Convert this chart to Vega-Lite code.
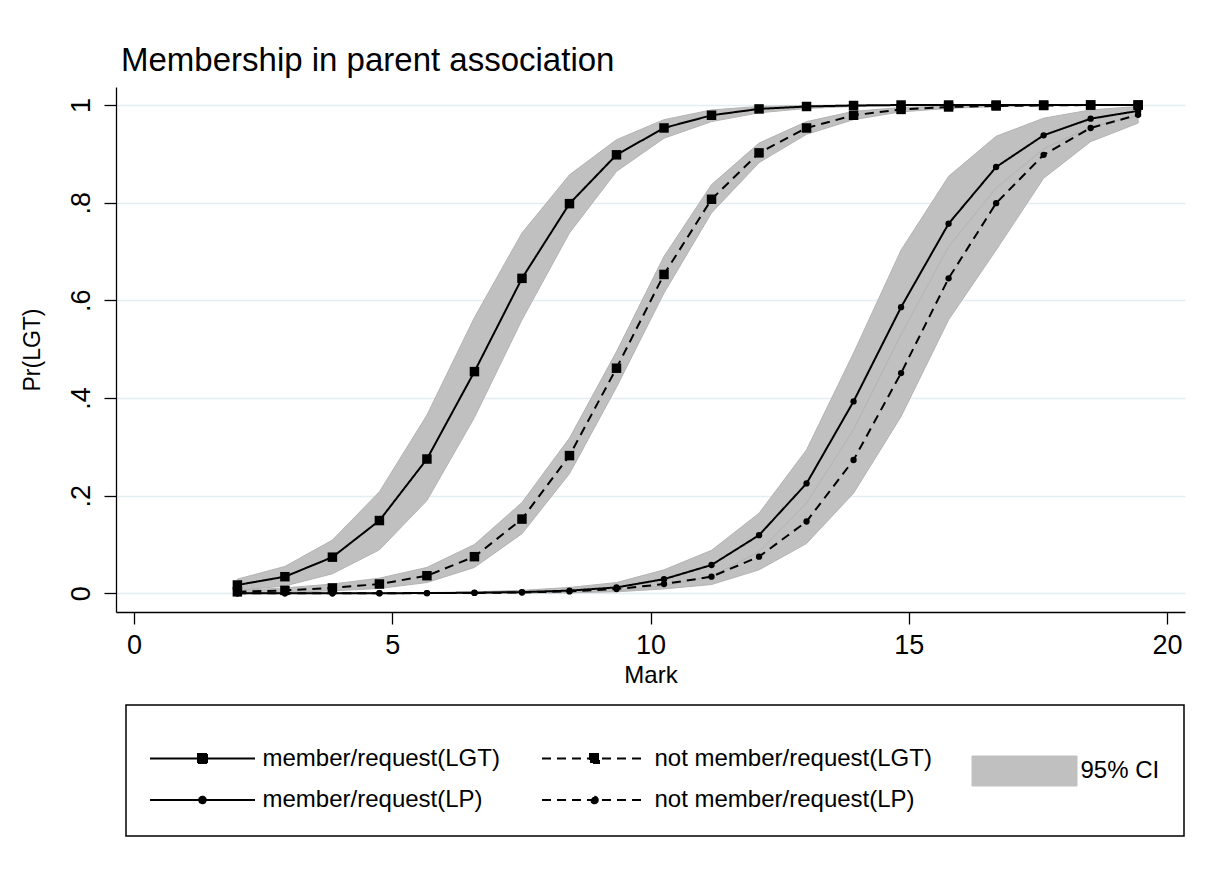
{
  "$schema": "https://vega.github.io/schema/vega-lite/v6.json",
  "width": 1069,
  "height": 525,
  "autosize": {"type": "none"},
  "padding": {"left": 116, "top": 87, "right": 29, "bottom": 265},
  "background": "white",
  "title": {
    "text": "Membership in parent association",
    "anchor": "start",
    "frame": "group",
    "font": "Liberation Sans",
    "fontSize": 33,
    "fontWeight": "normal",
    "color": "black",
    "baseline": "alphabetic",
    "offset": 15,
    "dx": 5,
    "dy": 32
  },
  "config": {"view": {"stroke": null}, "font": "Liberation Sans"},
  "data": {
    "values": [
      {"series": "member/request(LGT)", "x": 2.00, "p": 0.017, "lo": 0.006, "hi": 0.029},
      {"series": "member/request(LGT)", "x": 2.92, "p": 0.034, "lo": 0.015, "hi": 0.055},
      {"series": "member/request(LGT)", "x": 3.84, "p": 0.074, "lo": 0.040, "hi": 0.109},
      {"series": "member/request(LGT)", "x": 4.75, "p": 0.149, "lo": 0.089, "hi": 0.208},
      {"series": "member/request(LGT)", "x": 5.67, "p": 0.275, "lo": 0.190, "hi": 0.365},
      {"series": "member/request(LGT)", "x": 6.59, "p": 0.454, "lo": 0.360, "hi": 0.565},
      {"series": "member/request(LGT)", "x": 7.51, "p": 0.645, "lo": 0.560, "hi": 0.738},
      {"series": "member/request(LGT)", "x": 8.43, "p": 0.798, "lo": 0.738, "hi": 0.857},
      {"series": "member/request(LGT)", "x": 9.34, "p": 0.898, "lo": 0.864, "hi": 0.929},
      {"series": "member/request(LGT)", "x": 10.26, "p": 0.953, "lo": 0.932, "hi": 0.970},
      {"series": "member/request(LGT)", "x": 11.18, "p": 0.979, "lo": 0.966, "hi": 0.990},
      {"series": "member/request(LGT)", "x": 12.10, "p": 0.992, "lo": 0.984, "hi": 0.997},
      {"series": "member/request(LGT)", "x": 13.02, "p": 0.997, "lo": 0.993, "hi": 0.999},
      {"series": "member/request(LGT)", "x": 13.93, "p": 0.999, "lo": 0.997, "hi": 1.0},
      {"series": "member/request(LGT)", "x": 14.85, "p": 1.0, "lo": 0.999, "hi": 1.0},
      {"series": "member/request(LGT)", "x": 15.77, "p": 1.0, "lo": 1.0, "hi": 1.0},
      {"series": "member/request(LGT)", "x": 16.69, "p": 1.0, "lo": 1.0, "hi": 1.0},
      {"series": "member/request(LGT)", "x": 17.61, "p": 1.0, "lo": 1.0, "hi": 1.0},
      {"series": "member/request(LGT)", "x": 18.52, "p": 1.0, "lo": 1.0, "hi": 1.0},
      {"series": "member/request(LGT)", "x": 19.44, "p": 1.0, "lo": 1.0, "hi": 1.0},

      {"series": "not member/request(LGT)", "x": 2.00, "p": 0.003, "lo": 0.001, "hi": 0.006},
      {"series": "not member/request(LGT)", "x": 2.92, "p": 0.006, "lo": 0.002, "hi": 0.011},
      {"series": "not member/request(LGT)", "x": 3.84, "p": 0.011, "lo": 0.005, "hi": 0.019},
      {"series": "not member/request(LGT)", "x": 4.75, "p": 0.019, "lo": 0.010, "hi": 0.031},
      {"series": "not member/request(LGT)", "x": 5.67, "p": 0.036, "lo": 0.022, "hi": 0.053},
      {"series": "not member/request(LGT)", "x": 6.59, "p": 0.075, "lo": 0.053, "hi": 0.100},
      {"series": "not member/request(LGT)", "x": 7.51, "p": 0.152, "lo": 0.122, "hi": 0.186},
      {"series": "not member/request(LGT)", "x": 8.43, "p": 0.282, "lo": 0.245, "hi": 0.318},
      {"series": "not member/request(LGT)", "x": 9.34, "p": 0.461, "lo": 0.422, "hi": 0.495},
      {"series": "not member/request(LGT)", "x": 10.26, "p": 0.653, "lo": 0.615, "hi": 0.690},
      {"series": "not member/request(LGT)", "x": 11.18, "p": 0.807, "lo": 0.779, "hi": 0.837},
      {"series": "not member/request(LGT)", "x": 12.10, "p": 0.902, "lo": 0.882, "hi": 0.922},
      {"series": "not member/request(LGT)", "x": 13.02, "p": 0.953, "lo": 0.940, "hi": 0.966},
      {"series": "not member/request(LGT)", "x": 13.93, "p": 0.979, "lo": 0.970, "hi": 0.987},
      {"series": "not member/request(LGT)", "x": 14.85, "p": 0.991, "lo": 0.986, "hi": 0.995},
      {"series": "not member/request(LGT)", "x": 15.77, "p": 0.996, "lo": 0.993, "hi": 0.998},
      {"series": "not member/request(LGT)", "x": 16.69, "p": 0.998, "lo": 0.997, "hi": 0.999},
      {"series": "not member/request(LGT)", "x": 17.61, "p": 0.999, "lo": 0.999, "hi": 1.0},
      {"series": "not member/request(LGT)", "x": 18.52, "p": 1.0, "lo": 0.9995, "hi": 1.0},
      {"series": "not member/request(LGT)", "x": 19.44, "p": 1.0, "lo": 1.0, "hi": 1.0},

      {"series": "not member/request(LP)", "x": 2.00, "p": 0.00001, "lo": 0.0, "hi": 0.0001},
      {"series": "not member/request(LP)", "x": 2.92, "p": 0.00003, "lo": 0.0, "hi": 0.0002},
      {"series": "not member/request(LP)", "x": 3.84, "p": 0.00007, "lo": 0.0, "hi": 0.0003},
      {"series": "not member/request(LP)", "x": 4.75, "p": 0.00015, "lo": 0.0, "hi": 0.0006},
      {"series": "not member/request(LP)", "x": 5.67, "p": 0.0003, "lo": 0.0001, "hi": 0.001},
      {"series": "not member/request(LP)", "x": 6.59, "p": 0.0008, "lo": 0.0002, "hi": 0.002},
      {"series": "not member/request(LP)", "x": 7.51, "p": 0.0017, "lo": 0.0005, "hi": 0.005},
      {"series": "not member/request(LP)", "x": 8.43, "p": 0.0039, "lo": 0.001, "hi": 0.009},
      {"series": "not member/request(LP)", "x": 9.34, "p": 0.0086, "lo": 0.003, "hi": 0.014},
      {"series": "not member/request(LP)", "x": 10.26, "p": 0.019, "lo": 0.009, "hi": 0.030},
      {"series": "not member/request(LP)", "x": 11.18, "p": 0.034, "lo": 0.018, "hi": 0.055},
      {"series": "not member/request(LP)", "x": 12.10, "p": 0.075, "lo": 0.048, "hi": 0.100},
      {"series": "not member/request(LP)", "x": 13.02, "p": 0.147, "lo": 0.102, "hi": 0.200},
      {"series": "not member/request(LP)", "x": 13.93, "p": 0.273, "lo": 0.205, "hi": 0.350},
      {"series": "not member/request(LP)", "x": 14.85, "p": 0.451, "lo": 0.362, "hi": 0.550},
      {"series": "not member/request(LP)", "x": 15.77, "p": 0.645, "lo": 0.560, "hi": 0.730},
      {"series": "not member/request(LP)", "x": 16.69, "p": 0.799, "lo": 0.703, "hi": 0.870},
      {"series": "not member/request(LP)", "x": 17.61, "p": 0.898, "lo": 0.850, "hi": 0.940},
      {"series": "not member/request(LP)", "x": 18.52, "p": 0.953, "lo": 0.925, "hi": 0.975},
      {"series": "not member/request(LP)", "x": 19.44, "p": 0.980, "lo": 0.963, "hi": 0.990},

      {"series": "member/request(LP)", "x": 2.00, "p": 0.00002, "lo": 0.0, "hi": 0.0001},
      {"series": "member/request(LP)", "x": 2.92, "p": 0.00005, "lo": 0.0, "hi": 0.0002},
      {"series": "member/request(LP)", "x": 3.84, "p": 0.0001, "lo": 0.0, "hi": 0.0004},
      {"series": "member/request(LP)", "x": 4.75, "p": 0.0002, "lo": 0.0001, "hi": 0.0007},
      {"series": "member/request(LP)", "x": 5.67, "p": 0.0005, "lo": 0.0001, "hi": 0.0015},
      {"series": "member/request(LP)", "x": 6.59, "p": 0.0011, "lo": 0.0003, "hi": 0.003},
      {"series": "member/request(LP)", "x": 7.51, "p": 0.0025, "lo": 0.001, "hi": 0.006},
      {"series": "member/request(LP)", "x": 8.43, "p": 0.0055, "lo": 0.002, "hi": 0.012},
      {"series": "member/request(LP)", "x": 9.34, "p": 0.012, "lo": 0.005, "hi": 0.022},
      {"series": "member/request(LP)", "x": 10.26, "p": 0.029, "lo": 0.015, "hi": 0.048},
      {"series": "member/request(LP)", "x": 11.18, "p": 0.058, "lo": 0.035, "hi": 0.088},
      {"series": "member/request(LP)", "x": 12.10, "p": 0.119, "lo": 0.085, "hi": 0.164},
      {"series": "member/request(LP)", "x": 13.02, "p": 0.225, "lo": 0.185, "hi": 0.294},
      {"series": "member/request(LP)", "x": 13.93, "p": 0.393, "lo": 0.335, "hi": 0.492},
      {"series": "member/request(LP)", "x": 14.85, "p": 0.586, "lo": 0.530, "hi": 0.703},
      {"series": "member/request(LP)", "x": 15.77, "p": 0.757, "lo": 0.710, "hi": 0.854},
      {"series": "member/request(LP)", "x": 16.69, "p": 0.873, "lo": 0.830, "hi": 0.936},
      {"series": "member/request(LP)", "x": 17.61, "p": 0.938, "lo": 0.910, "hi": 0.973},
      {"series": "member/request(LP)", "x": 18.52, "p": 0.972, "lo": 0.955, "hi": 0.990},
      {"series": "member/request(LP)", "x": 19.44, "p": 0.988, "lo": 0.978, "hi": 0.997}
    ]
  },
  "encoding": {
    "x": {
      "field": "x",
      "type": "quantitative",
      "scale": {"domain": [-0.35, 20.347], "nice": false, "zero": false},
      "axis": {
        "values": [0, 5, 10, 15, 20],
        "title": "Mark",
        "titleFont": "Liberation Sans",
        "titleFontSize": 24,
        "titleFontWeight": "normal",
        "titleColor": "black",
        "titleBaseline": "alphabetic",
        "titleY": 70,
        "labelFont": "Liberation Sans",
        "labelFontSize": 27,
        "labelColor": "black",
        "labelPadding": 8,
        "labelFlush": false,
        "tickSize": 12,
        "tickColor": "black",
        "tickWidth": 1.3,
        "domainColor": "black",
        "domainWidth": 1.3,
        "grid": false
      }
    }
  },
  "layer": [
    {
      "mark": {"type": "area", "stroke": "#b3b3b3", "strokeWidth": 1, "opacity": 1, "interpolate": "linear"},
      "encoding": {
        "y": {
          "field": "lo",
          "type": "quantitative",
          "scale": {"domain": [-0.0383, 1.0369], "nice": false, "zero": false},
          "axis": {
            "values": [0, 0.2, 0.4, 0.6, 0.8, 1],
            "labelExpr": "datum.value == 0 ? '0' : (datum.value == 1 ? '1' : replace(format(datum.value, '.1f'), '0.', '.'))",
            "title": "Pr(LGT)",
            "titleFont": "Liberation Sans",
            "titleFontSize": 23,
            "titleFontWeight": "normal",
            "titleColor": "black",
            "titleAngle": 270,
            "titleBaseline": "alphabetic",
            "titleAlign": "center",
            "titleX": -77,
            "labelFont": "Liberation Sans",
            "labelFontSize": 27,
            "labelColor": "black",
            "labelAngle": 270,
            "labelAlign": "center",
            "labelBaseline": "alphabetic",
            "labelPadding": 15,
            "tickSize": 12,
            "tickColor": "black",
            "tickWidth": 1.3,
            "domainColor": "black",
            "domainWidth": 1.3,
            "grid": true,
            "gridColor": "#e4edf0",
            "gridWidth": 1.6
          }
        },
        "y2": {"field": "hi"},
        "detail": {"field": "series", "type": "nominal"},
        "color": {
          "datum": "95% CI",
          "type": "nominal",
          "scale": {
            "domain": ["member/request(LGT)", "not member/request(LGT)", "95% CI", "member/request(LP)", "not member/request(LP)"],
            "range": ["black", "black", "#c0c0c0", "black", "black"]
          },
          "legend": {
            "title": null,
            "orient": "none",
            "legendX": 10,
            "legendY": 618,
            "direction": "horizontal",
            "columns": 3,
            "padding": 24,
            "strokeColor": "black",
            "columnPadding": 38,
            "rowPadding": -1.5,
            "labelFont": "Liberation Sans",
            "labelFontSize": 24,
            "labelColor": "black",
            "labelLimit": 600,
            "symbolSize": 400,
            "symbolStrokeWidth": 2,
            "symbolOffset": 40.5,
            "labelOffset": 48,
            "encode": {
              "symbols": {"update": {
                "shape": {"signal": "datum.value === '95% CI' ? 'M-5.25,1.5H5.25V4.5H-5.25Z' : (indexof(datum.value, '(LGT)') >= 0 ? 'M-5.25,0H5.25M-0.45,-0.45H0.45V0.45H-0.45Z' : 'M-5.25,0H5.25M0.33,0A0.33,0.33 0 1,1 -0.33,0A0.33,0.33 0 1,1 0.33,0Z')"},
                "fill": {"signal": "datum.value === '95% CI' ? '#c0c0c0' : 'black'"},
                "stroke": {"signal": "datum.value === '95% CI' ? '#b3b3b3' : 'black'"},
                "strokeWidth": {"signal": "datum.value === '95% CI' ? 1 : 2"},
                "opacity": {"value": 1}
              }},
              "labels": {"update": {
                "dy": {"signal": "datum.value === '95% CI' ? 30 : 0"},
                "dx": {"signal": "datum.value === '95% CI' ? -4 : 0"}
              }},
              "legend": {"update": {"strokeWidth": {"value": 1.5}}}
            }
          }
        }
      }
    },
    {
      "mark": {"type": "line", "strokeWidth": 2},
      "encoding": {
        "y": {"field": "p", "type": "quantitative"},
        "color": {
          "field": "series",
          "type": "nominal",
          "scale": {
            "domain": ["member/request(LGT)", "not member/request(LGT)", "95% CI", "member/request(LP)", "not member/request(LP)"],
            "range": ["black", "black", "#c0c0c0", "black", "black"]
          },
          "legend": {
            "title": null,
            "orient": "none",
            "legendX": 10,
            "legendY": 618,
            "direction": "horizontal",
            "columns": 3,
            "padding": 24,
            "strokeColor": "black",
            "columnPadding": 38,
            "rowPadding": -1.5,
            "labelFont": "Liberation Sans",
            "labelFontSize": 24,
            "labelColor": "black",
            "labelLimit": 600,
            "symbolSize": 400,
            "symbolStrokeWidth": 2,
            "symbolOffset": 40.5,
            "labelOffset": 48,
            "encode": {
              "symbols": {"update": {
                "shape": {"signal": "datum.value === '95% CI' ? 'M-5.25,1.5H5.25V4.5H-5.25Z' : (indexof(datum.value, '(LGT)') >= 0 ? 'M-5.25,0H5.25M-0.45,-0.45H0.45V0.45H-0.45Z' : 'M-5.25,0H5.25M0.33,0A0.33,0.33 0 1,1 -0.33,0A0.33,0.33 0 1,1 0.33,0Z')"},
                "fill": {"signal": "datum.value === '95% CI' ? '#c0c0c0' : 'black'"},
                "stroke": {"signal": "datum.value === '95% CI' ? '#b3b3b3' : 'black'"},
                "strokeWidth": {"signal": "datum.value === '95% CI' ? 1 : 2"},
                "opacity": {"value": 1}
              }},
              "labels": {"update": {
                "dy": {"signal": "datum.value === '95% CI' ? 30 : 0"},
                "dx": {"signal": "datum.value === '95% CI' ? -4 : 0"}
              }},
              "legend": {"update": {"strokeWidth": {"value": 1.5}}}
            }
          }
        },
        "strokeDash": {
          "field": "series",
          "type": "nominal",
          "scale": {
            "domain": ["member/request(LGT)", "not member/request(LGT)", "95% CI", "member/request(LP)", "not member/request(LP)"],
            "range": [[1, 0], [9, 6], [1, 0], [1, 0], [9, 6]]
          },
          "legend": {
            "title": null,
            "orient": "none",
            "legendX": 10,
            "legendY": 618,
            "direction": "horizontal",
            "columns": 3,
            "padding": 24,
            "strokeColor": "black",
            "columnPadding": 38,
            "rowPadding": -1.5,
            "labelFont": "Liberation Sans",
            "labelFontSize": 24,
            "labelColor": "black",
            "labelLimit": 600,
            "symbolSize": 400,
            "symbolStrokeWidth": 2,
            "symbolOffset": 40.5,
            "labelOffset": 48,
            "encode": {
              "symbols": {"update": {
                "shape": {"signal": "datum.value === '95% CI' ? 'M-5.25,1.5H5.25V4.5H-5.25Z' : (indexof(datum.value, '(LGT)') >= 0 ? 'M-5.25,0H5.25M-0.45,-0.45H0.45V0.45H-0.45Z' : 'M-5.25,0H5.25M0.33,0A0.33,0.33 0 1,1 -0.33,0A0.33,0.33 0 1,1 0.33,0Z')"},
                "fill": {"signal": "datum.value === '95% CI' ? '#c0c0c0' : 'black'"},
                "stroke": {"signal": "datum.value === '95% CI' ? '#b3b3b3' : 'black'"},
                "strokeWidth": {"signal": "datum.value === '95% CI' ? 1 : 2"},
                "opacity": {"value": 1}
              }},
              "labels": {"update": {
                "dy": {"signal": "datum.value === '95% CI' ? 30 : 0"},
                "dx": {"signal": "datum.value === '95% CI' ? -4 : 0"}
              }},
              "legend": {"update": {"strokeWidth": {"value": 1.5}}}
            }
          }
        }
      }
    },
    {
      "transform": [{"filter": "indexof(datum.series, '(LGT)') >= 0"}],
      "mark": {"type": "point", "shape": "square", "filled": true, "color": "black", "size": 90, "opacity": 1},
      "encoding": {"y": {"field": "p", "type": "quantitative"}}
    },
    {
      "transform": [{"filter": "indexof(datum.series, '(LP)') >= 0"}],
      "mark": {"type": "point", "shape": "circle", "filled": true, "color": "black", "size": 40, "opacity": 1},
      "encoding": {"y": {"field": "p", "type": "quantitative"}}
    }
  ]
}
